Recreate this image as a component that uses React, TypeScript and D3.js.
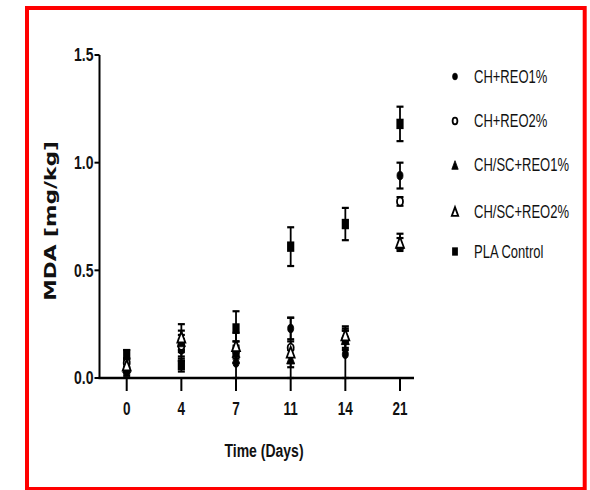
import React from "react";
import * as d3 from "d3";

// Storage days (x categories)
const days = ["0", "4", "7", "11", "14", "21"];

// MDA means and error (mg/kg) per formulation
const chReo1Mean = [0.03, 0.13, 0.07, 0.23, 0.11, 0.94];
const chReo1Err = [0.02, 0.05, 0.07, 0.05, 0.11, 0.06];
const chReo2Mean = [0.07, 0.15, 0.12, 0.14, 0.18, 0.82];
const chReo2Err = [0.02, 0.05, 0.05, 0.14, 0.05, 0.02];
const chScReo1Mean = [0.05, 0.17, 0.12, 0.09, 0.18, 0.625];
const chScReo1Err = [0.03, 0.05, 0.05, 0.04, 0.04, 0.025];
const chScReo2Mean = [0.06, 0.19, 0.15, 0.12, 0.2, 0.63];
const chScReo2Err = [0.03, 0.06, 0.06, 0.05, 0.04, 0.04];
const plaMean = [0.11, 0.06, 0.23, 0.61, 0.715, 1.18];
const plaErr = [0.02, 0.03, 0.08, 0.09, 0.075, 0.08];

const yTicks = [0, 0.5, 1.0, 1.5];

type Shape = "circle" | "triangle" | "square";
interface Series {
  name: string;
  mean: number[];
  err: number[];
  shape: Shape;
  filled: boolean;
}

const series: Series[] = [
  { name: "CH+REO1%", mean: chReo1Mean, err: chReo1Err, shape: "circle", filled: true },
  { name: "CH+REO2%", mean: chReo2Mean, err: chReo2Err, shape: "circle", filled: false },
  { name: "CH/SC+REO1%", mean: chScReo1Mean, err: chScReo1Err, shape: "triangle", filled: true },
  { name: "CH/SC+REO2%", mean: chScReo2Mean, err: chScReo2Err, shape: "triangle", filled: false },
  { name: "PLA Control", mean: plaMean, err: plaErr, shape: "square", filled: true },
];

const W = 590;
const H = 490;
const axisX = 99.5;
const axisY = 378;
const top = 55;

const x = d3.scalePoint<string>().domain(days).range([126.7, 400]);
const y = d3.scaleLinear().domain([0, 1.5]).range([axisY, top]);

const FONT = "'Liberation Sans', Arial, sans-serif";

function Marker({ shape, filled, cx, cy, s = 1 }: { shape: Shape; filled: boolean; cx: number; cy: number; s?: number }) {
  const fill = filled ? "#000" : "#fff";
  const stroke = "#000";
  const sw = filled ? 0.8 : 1.8;
  if (shape === "circle") {
    return <ellipse cx={cx} cy={cy} rx={3 * s} ry={4.2 * s} fill={fill} stroke={stroke} strokeWidth={sw} />;
  }
  if (shape === "square") {
    return <rect x={cx - 3.6 * s} y={cy - 5.2 * s} width={7.2 * s} height={10.4 * s} fill={fill} />;
  }
  const hw = 4 * s;
  const hh = 5.4 * s;
  const p = d3.path();
  p.moveTo(cx, cy - hh);
  p.lineTo(cx + hw, cy + hh);
  p.lineTo(cx - hw, cy + hh);
  p.closePath();
  return <path d={p.toString()} fill={fill} stroke={stroke} strokeWidth={sw} strokeLinejoin="miter" />;
}

export default function App() {
  const legendX = 455;
  const legendRows = [76.5, 121, 165, 211.5, 251.5];

  return (
    <svg
      width={W}
      height={H}
      style={{ position: "absolute", left: 0, top: 0, background: "#fff" }}
      fontFamily={FONT}
    >
      <rect x={0} y={0} width={W} height={H} fill="#fff" />
      <rect x={27} y={8} width={557.7} height={481} fill="none" stroke="#ff0000" strokeWidth={4} />

      {/* y axis */}
      <line x1={axisX} x2={axisX} y1={top} y2={axisY} stroke="#000" strokeWidth={2} />
      {yTicks.map((t) => (
        <g key={t}>
          <line x1={axisX - 5} x2={axisX} y1={y(t)} y2={y(t)} stroke="#000" strokeWidth={2} />
          <text
            transform={`translate(${axisX - 6},${y(t)}) scale(1,1.3)`}
            dy="0.35em"
            textAnchor="end"
            fontSize={14}
            fontWeight="bold"
            fill="#111"
          >
            {t.toFixed(1)}
          </text>
        </g>
      ))}

      {/* x axis */}
      <line x1={axisX - 1} x2={414} y1={axisY} y2={axisY} stroke="#000" strokeWidth={2.5} />
      {days.map((d) => (
        <g key={d}>
          <line x1={x(d)!} x2={x(d)!} y1={axisY} y2={axisY + 13} stroke="#000" strokeWidth={2} />
          <text
            transform={`translate(${x(d)!},${409}) scale(1,1.3)`}
            dy="0.35em"
            textAnchor="middle"
            fontSize={13.5}
            fontWeight="bold"
            fill="#111"
          >
            {d}
          </text>
        </g>
      ))}

      {/* axis titles */}
      <text
        transform={`translate(264,450) scale(1,1.35)`}
        dy="0.35em"
        textAnchor="middle"
        fontSize={14}
        fontWeight="bold"
        fill="#111"
      >
        Time (Days)
      </text>
      <text
        transform={`translate(51,221) rotate(-90) scale(1.4,1)`}
        dy="0.35em"
        textAnchor="middle"
        fontSize={15.5}
        fontWeight="bold"
        fontFamily="'DejaVu Sans', Verdana, sans-serif"
        fill="#111"
      >
        MDA [mg/kg]
      </text>

      {/* error bars */}
      {series.map((s) =>
        s.mean.map((m, i) => {
          const cx = x(days[i])!;
          const y1 = y(Math.max(0, m - s.err[i]));
          const y2 = y(m + s.err[i]);
          return (
            <g key={`${s.name}-e-${i}`} stroke="#000" strokeWidth={1.8}>
              <line x1={cx} x2={cx} y1={y1} y2={y2} />
              <line x1={cx - 3.5} x2={cx + 3.5} y1={y2} y2={y2} strokeWidth={2.2} />
              <line x1={cx - 3.5} x2={cx + 3.5} y1={y1} y2={y1} strokeWidth={2.2} />
            </g>
          );
        })
      )}

      {/* markers */}
      {series.map((s) =>
        s.mean.map((m, i) => (
          <Marker key={`${s.name}-m-${i}`} shape={s.shape} filled={s.filled} cx={x(days[i])!} cy={y(m)} />
        ))
      )}

      {/* legend */}
      {series.map((s, i) => (
        <g key={`leg-${s.name}`}>
          <Marker shape={s.shape} filled={s.filled} cx={legendX} cy={legendRows[i]} s={0.8} />
          <text
            transform={`translate(474,${legendRows[i]}) scale(1,1.35)`}
            dy="0.35em"
            fontSize={13}
            fill="#111"
          >
            {s.name}
          </text>
        </g>
      ))}
    </svg>
  );
}
